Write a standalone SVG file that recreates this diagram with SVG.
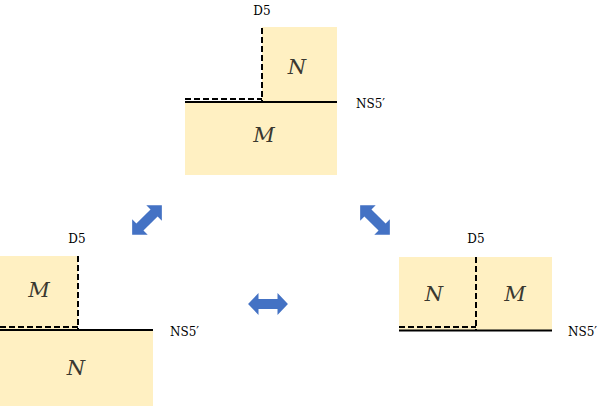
<svg xmlns="http://www.w3.org/2000/svg" width="599" height="406" viewBox="0 0 599 406">
<style>
.box{fill:#fff0c2;stroke:none}
.dash{stroke:#000;stroke-width:2;stroke-dasharray:6,3;fill:none}
.solid{stroke:#000;stroke-width:2;fill:none}
.lbl{font-family:"DejaVu Serif",serif;font-size:12px;fill:#000}
.var{font-family:"DejaVu Serif",serif;font-size:21px;font-style:italic;fill:#3a3830;text-anchor:middle}
.arr{fill:#4472c4}
</style>
<defs>
<path id="dbl" d="M -21,0 L -10,-11 L -10,-5 L 10,-5 L 10,-11 L 21,0 L 10,11 L 10,5 L -10,5 L -10,11 Z"/>
</defs>
<g id="top">
<rect class="box" x="262" y="27" width="75" height="74"/>
<rect class="box" x="185" y="101" width="152" height="74"/>
<line class="solid" x1="185" y1="102" x2="337" y2="102"/>
<line class="dash" x1="262" y1="28" x2="262" y2="101"/>
<line class="dash" x1="185" y1="99" x2="262" y2="99"/>
<text class="lbl" x="262" y="15" text-anchor="middle">D5</text>
<text class="lbl" x="356" y="108">NS5′</text>
<text class="var" x="297" y="74">N</text>
<text class="var" x="264" y="142">M</text>
</g>
<g id="left">
<rect class="box" x="0" y="256" width="78" height="73"/>
<rect class="box" x="0" y="329" width="153" height="77"/>
<line class="solid" x1="0" y1="330" x2="153" y2="330"/>
<line class="dash" x1="78" y1="256" x2="78" y2="329"/>
<line class="dash" x1="0" y1="327" x2="78" y2="327"/>
<text class="lbl" x="77" y="243" text-anchor="middle">D5</text>
<text class="lbl" x="170" y="336">NS5′</text>
<text class="var" x="39" y="297">M</text>
<text class="var" x="76" y="375">N</text>
</g>
<g id="right">
<rect class="box" x="399" y="257" width="153" height="73"/>
<line class="solid" x1="399" y1="330.5" x2="552" y2="330.5"/>
<line class="dash" x1="476" y1="257" x2="476" y2="330"/>
<line class="dash" x1="399" y1="327" x2="476" y2="327"/>
<text class="lbl" x="476" y="243" text-anchor="middle">D5</text>
<text class="lbl" x="568" y="336">NS5′</text>
<text class="var" x="434" y="301">N</text>
<text class="var" x="515" y="301">M</text>
</g>
<g id="connectors">
<use class="arr" href="#dbl" transform="translate(147,220) rotate(-45)"/>
<use class="arr" href="#dbl" transform="translate(375,220) rotate(45)"/>
<use class="arr" href="#dbl" transform="translate(268,304) scale(0.95,1)"/>
</g>
</svg>
